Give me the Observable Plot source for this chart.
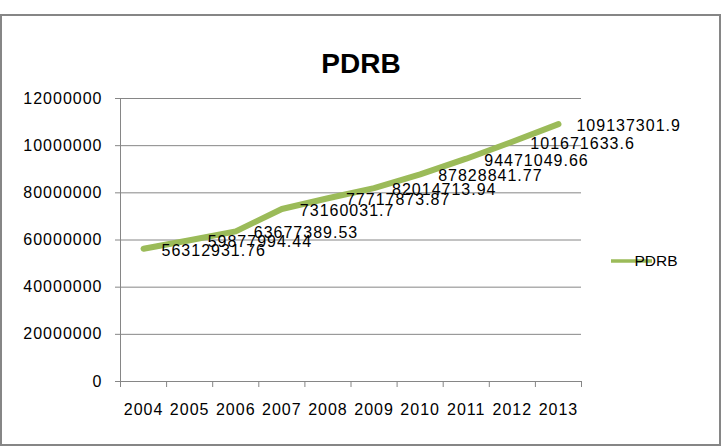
<!DOCTYPE html>
<html>
<head>
<meta charset="utf-8">
<script src="https://cdn.jsdelivr.net/npm/d3@7"></script>
<script src="https://cdn.jsdelivr.net/npm/@observablehq/plot@0.6"></script>
<style>
  html, body { margin: 0; padding: 0; background: #fff; }
  svg text.num, .num text { letter-spacing: 1px; }
</style>
</head>
<body>
<div id="chart"></div>
<script>
const chartTitle = "PDRB";
const seriesName = "PDRB";
const years = [2004, 2005, 2006, 2007, 2008, 2009, 2010, 2011, 2012, 2013];
const pdrb = [56312931.76, 59877994.44, 63677389.53, 73160031.7, 77717873.87, 82014713.94, 87828841.77, 94471049.66, 101671633.6, 109137301.9];
const yTicks = [0, 20000000, 40000000, 60000000, 80000000, 100000000, 120000000];
const yTickLabels = ["0", "20000000", "40000000", "60000000", "80000000", "10000000", "12000000"];

const data = years.map((y, i) => ({year: y, value: pdrb[i], label: String(pdrb[i])}));
const bounds = [years[0] - 0.5, ...years.map(y => y + 0.5)];

const gray = "#868686";
const green = "#9BBB59";
const font = "'Liberation Sans', Arial, Helvetica, sans-serif";

const plot = Plot.plot({
  width: 726,
  height: 448,
  marginLeft: 120,
  marginRight: 145,
  marginTop: 98,
  marginBottom: 67,
  style: {fontFamily: font, fontSize: "16px", color: "#000", background: "#fff"},
  x: {type: "linear", domain: [bounds[0], bounds[bounds.length - 1]]},
  y: {domain: [0, 120000000]},
  marks: [
    Plot.gridY(yTicks, {stroke: gray, strokeOpacity: 1, strokeWidth: 1}),
    Plot.ruleX([bounds[0]], {stroke: gray, strokeWidth: 1}),
    Plot.ruleY([0], {stroke: gray, strokeWidth: 1}),
    Plot.axisY(yTicks, {
      tickFormat: d => yTickLabels[yTicks.indexOf(d)],
      tickSize: 5, tickPadding: 13, stroke: gray, fill: "#000",
      fontSize: 16, label: null, className: "num"
    }),
    Plot.axisX(bounds, {tickFormat: () => "", tickSize: 6, stroke: gray, label: null}),
    Plot.axisX(years, {tickFormat: d => String(d), tickSize: 0, tickPadding: 22, fill: "#000", fontSize: 16, label: null, className: "num"}),
    Plot.line(data, {x: "year", y: "value", stroke: green, strokeWidth: 6, strokeLinecap: "round", strokeLinejoin: "round"}),
    Plot.text(data, {x: "year", y: "value", text: "label", textAnchor: "start", dx: 18, dy: 2, fill: "#000", fontSize: 16, className: "num"}),
    Plot.text([chartTitle], {frameAnchor: "top", dx: 10, dy: -45, fontSize: 28, fontWeight: "bold", fill: "#000"})
  ]
});

const svg = d3.select(plot);
// legend
const lg = svg.append("g");
lg.append("line").attr("x1", 611).attr("x2", 652).attr("y1", 261).attr("y2", 261)
  .attr("stroke", green).attr("stroke-width", 3.5);
lg.append("text").attr("x", 656).attr("y", 261).attr("dy", "0.35em")
  .attr("font-size", 15.5).attr("fill", "#000").text(seriesName);
// outer chart border
svg.append("rect").attr("x", 1).attr("y", 15).attr("width", 719).attr("height", 430)
  .attr("fill", "none").attr("stroke", gray).attr("stroke-width", 2);

document.getElementById("chart").appendChild(plot);
</script>
</body>
</html>
